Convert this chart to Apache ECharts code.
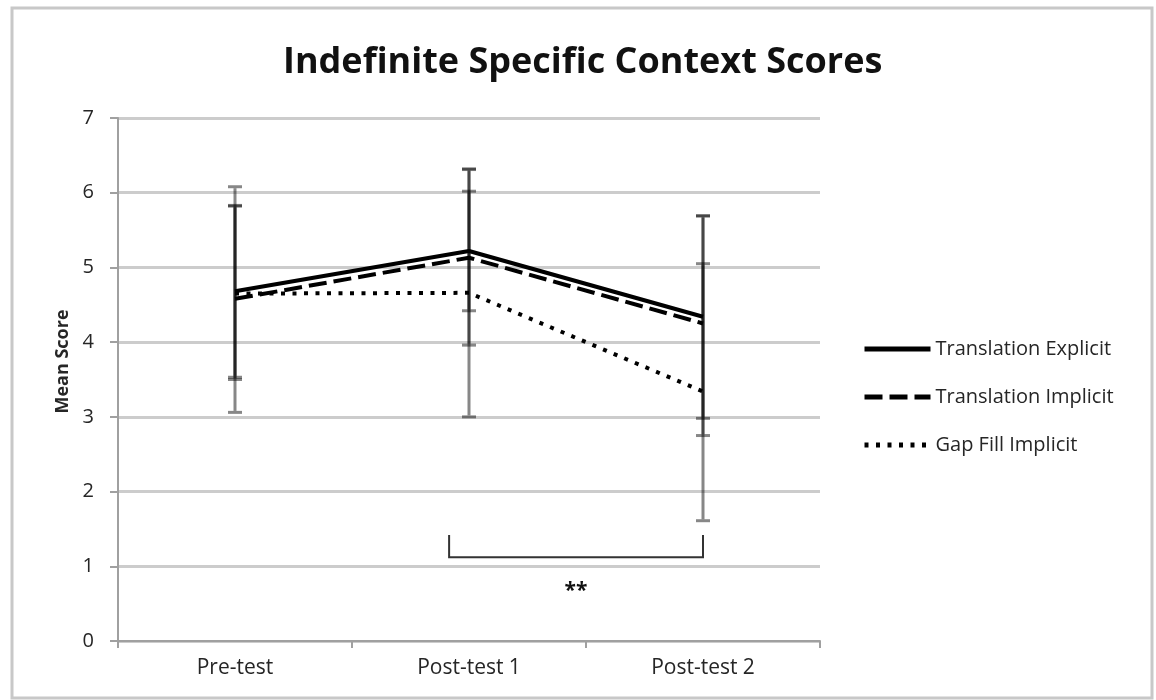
<!DOCTYPE html>
<html>
<head>
<meta charset="utf-8">
<title>Indefinite Specific Context Scores</title>
<script src="https://cdn.jsdelivr.net/npm/echarts@6/dist/echarts.min.js"></script>
<style>
  html, body { margin: 0; padding: 0; background: #ffffff; }
  #chart { width: 1156px; height: 700px; }
</style>
</head>
<body>
<div id="chart"></div>
<script>
// Test phases on the x axis
const categories = ['Pre-test', 'Post-test 1', 'Post-test 2'];

// Mean scores per condition
const translationExplicit = [4.68, 5.22, 4.34];
const translationImplicit = [4.58, 5.13, 4.25];
const gapFillImplicit     = [4.65, 4.66, 3.34];

// Error bar ends (low / high) per condition
const translationExplicitLow  = [3.53, 4.42, 2.98];
const translationExplicitHigh = [5.83, 6.02, 5.69];
const translationImplicitLow  = [3.06, 3.96, 2.75];
const translationImplicitHigh = [6.08, 6.31, 5.69];
const gapFillImplicitLow      = [3.50, 3.00, 1.61];
const gapFillImplicitHigh     = [5.82, 6.32, 5.05];

// Significance bracket between Post-test 1 and Post-test 2
const bracketFrom = 1;
const bracketTo = 2;
const bracketBase = 1.12;
const bracketTop = 1.42;
const bracketLabel = '**';

// Y axis ticks
const yMin = 0;
const yMax = 7;
const yStep = 1;

const FONT = '"Open Sans", "Liberation Sans", sans-serif';
const TEXT = '#262626';
const BAR_COLOR = 'rgba(0,0,0,0.47)';

function errorData(low, high) {
  return low.map((l, i) => [i, l, high[i]]);
}

function renderErrorBar(params, api) {
  const top = api.coord([api.value(0), api.value(2)]);
  const bot = api.coord([api.value(0), api.value(1)]);
  const x = top[0];
  const half = 7;
  const style = { stroke: BAR_COLOR, lineWidth: 3, fill: null };
  return {
    type: 'group',
    children: [
      { type: 'line', shape: { x1: x, y1: top[1] + 1.5, x2: x, y2: bot[1] - 1.5 }, style },
      { type: 'line', shape: { x1: x - half, y1: top[1], x2: x + half, y2: top[1] }, style },
      { type: 'line', shape: { x1: x - half, y1: bot[1], x2: x + half, y2: bot[1] }, style }
    ]
  };
}

function errorSeries(name, low, high) {
  return {
    name: name + ' error',
    type: 'custom',
    renderItem: renderErrorBar,
    data: errorData(low, high),
    encode: { x: 0, y: [1, 2] },
    silent: true,
    z: 2
  };
}

function renderBracket(params, api) {
  const a = api.coord([api.value(0), api.value(2)]);
  const b = api.coord([api.value(1), api.value(2)]);
  const t = api.coord([api.value(1), api.value(3)]);
  const band = api.size([1, 0])[0];
  const lx = a[0] - band * 0.085;
  const rx = b[0];
  return {
    type: 'group',
    children: [
      {
        type: 'polyline',
        shape: { points: [[lx, t[1]], [lx, a[1]], [rx, a[1]], [rx, t[1]]] },
        style: { stroke: '#333333', lineWidth: 2, fill: null }
      },
      {
        type: 'text',
        style: {
          x: (lx + rx) / 2, y: a[1] + 34,
          text: bracketLabel,
          font: 'bold 21px ' + FONT,
          fill: '#111111',
          align: 'center', verticalAlign: 'middle'
        }
      }
    ]
  };
}

const chart = echarts.init(document.getElementById('chart'), null, { renderer: 'canvas' });

chart.setOption({
  animation: false,
  backgroundColor: '#ffffff',
  graphic: [{
    type: 'rect',
    shape: { x: 12, y: 8, width: 1140, height: 690 },
    style: { stroke: '#c8c8c8', lineWidth: 3, fill: null },
    silent: true
  }],
  title: {
    text: 'Indefinite Specific Context Scores',
    left: 278,
    top: 40,
    textStyle: { fontFamily: FONT, fontWeight: 'bold', fontSize: 36, color: '#111111' }
  },
  legend: {
    orient: 'vertical',
    left: 862,
    top: 339,
    padding: 0,
    itemWidth: 66,
    itemHeight: 14,
    itemGap: 28,
    itemStyle: { opacity: 0 },
    lineStyle: { width: 5 },
    textStyle: { fontFamily: FONT, fontSize: 20, color: TEXT },
    data: ['Translation Explicit', 'Translation Implicit', 'Gap Fill Implicit']
  },
  grid: { left: 118, right: 336, top: 118, bottom: 59, containLabel: false },
  xAxis: {
    type: 'category',
    data: categories,
    boundaryGap: true,
    axisLine: { lineStyle: { color: '#a0a0a0', width: 2 } },
    axisTick: { show: true, length: 7, lineStyle: { color: '#a0a0a0', width: 2 } },
    axisLabel: { fontFamily: FONT, fontSize: 21, color: TEXT, margin: 17 }
  },
  yAxis: {
    type: 'value',
    min: yMin,
    max: yMax,
    interval: yStep,
    name: 'Mean Score',
    nameLocation: 'middle',
    nameGap: 46,
    nameRotate: 90,
    nameTextStyle: { fontFamily: FONT, fontWeight: 'bold', fontSize: 18, color: TEXT, padding: [0, 0, 0, 36] },
    axisLine: { show: true, lineStyle: { color: '#a0a0a0', width: 2 } },
    axisTick: { show: true, length: 8, lineStyle: { color: '#a0a0a0', width: 2 } },
    axisLabel: { fontFamily: FONT, fontSize: 20, color: TEXT, margin: 24 },
    splitLine: { lineStyle: { color: '#cccccc', width: 3 } }
  },
  series: [
    errorSeries('Gap Fill Implicit', gapFillImplicitLow, gapFillImplicitHigh),
    errorSeries('Translation Implicit', translationImplicitLow, translationImplicitHigh),
    errorSeries('Translation Explicit', translationExplicitLow, translationExplicitHigh),
    {
      name: 'Translation Explicit',
      type: 'line',
      data: translationExplicit,
      symbol: 'none',
      lineStyle: { color: '#000000', width: 4, type: 'solid' },
      itemStyle: { color: '#000000' },
      z: 5
    },
    {
      name: 'Translation Implicit',
      type: 'line',
      data: translationImplicit,
      symbol: 'none',
      lineStyle: { color: '#000000', width: 4, type: [18, 7] },
      itemStyle: { color: '#000000' },
      z: 5
    },
    {
      name: 'Gap Fill Implicit',
      type: 'line',
      data: gapFillImplicit,
      symbol: 'none',
      lineStyle: { color: '#000000', width: 4, type: [4, 7.5] },
      itemStyle: { color: '#000000' },
      z: 5
    },
    {
      name: 'bracket',
      type: 'custom',
      renderItem: renderBracket,
      data: [[bracketFrom, bracketTo, bracketBase, bracketTop]],
      encode: { x: [0, 1], y: [2, 3] },
      silent: true,
      z: 4
    }
  ]
});
</script>
</body>
</html>
